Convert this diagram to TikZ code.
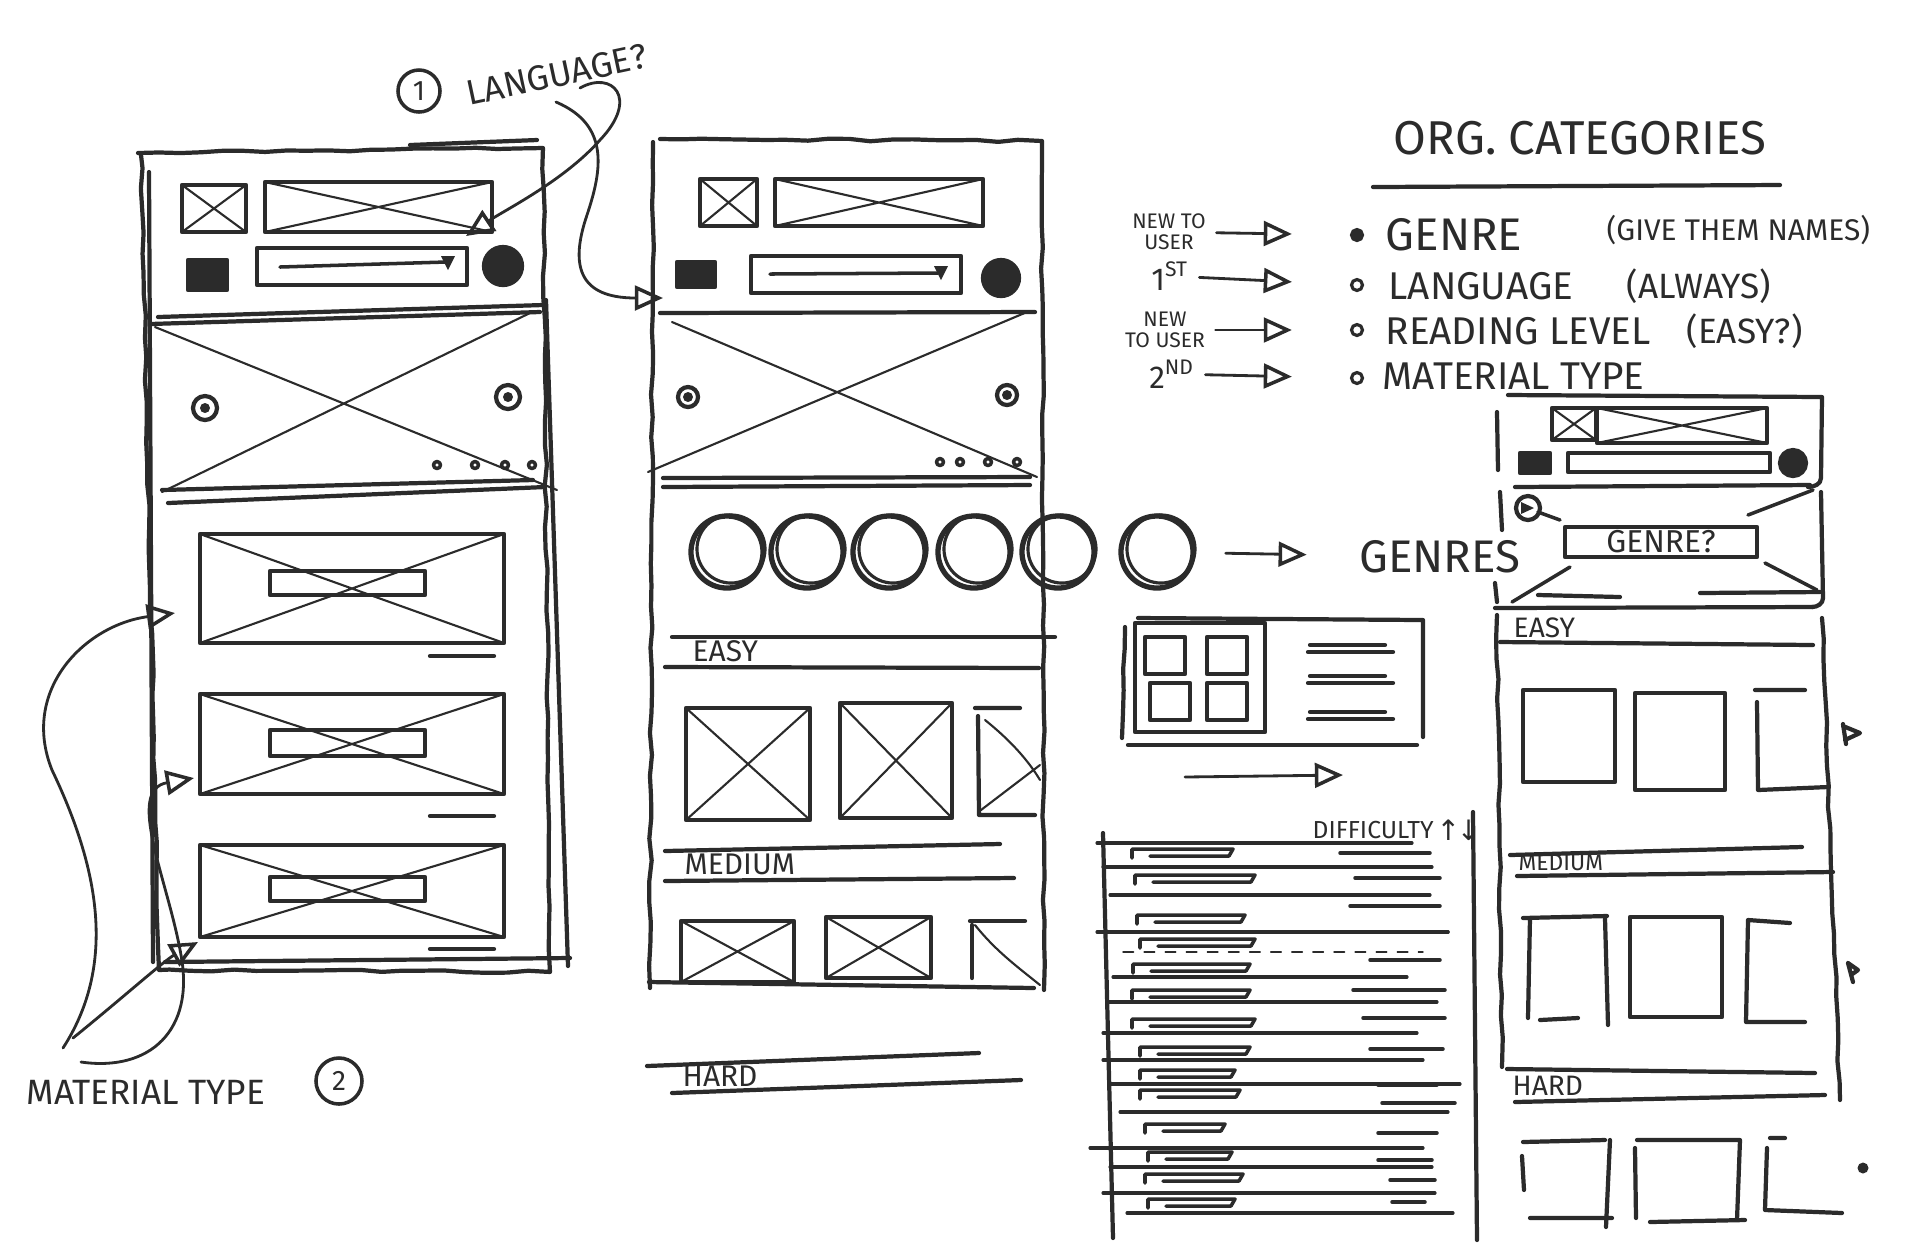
\documentclass[tikz,border=0pt]{standalone}
\usepackage{fontspec}
\setmainfont{Fira Sans}
\newfontfamily\dejavu{DejaVu Sans}
\usetikzlibrary{positioning, arrows.meta, decorations.pathmorphing, calc}
\definecolor{ink}{HTML}{2B2B2B}
\tikzset{
	pen/.style={draw=ink, line width=1.2pt, line cap=round, line join=round},
	thin pen/.style={draw=ink, line width=0.6pt, line cap=round},
	wobbly/.style={decorate, decoration={random steps, segment length=6pt, amplitude=0.35pt}},
	inked/.style={pen, fill=ink},
	edge/.style={draw=ink, line width=0.8pt, line cap=round, -{Triangle[open, length=8pt, width=7pt, line width=1pt]}},
	note/.style={text=ink, inner sep=0pt, font=\fontsize{10}{10}\selectfont},
	big note/.style={note, font=\fontsize{13}{13}\selectfont},
	row note/.style={note, anchor=west, font=\fontsize{8.5}{9}\selectfont},
	tiny note/.style={note, font=\fontsize{6}{6}\selectfont, align=center},
	num/.style={circle, draw=ink, line width=1pt, minimum size=4.2mm, inner sep=0pt, text=ink, font=\fontsize{8}{8}\selectfont},
	genre dot/.style={circle, pen, line width=1.5pt, minimum size=7.2mm, inner sep=0pt},
	bullet/.style={circle, draw=ink, line width=0.9pt, minimum size=1.1mm, inner sep=0pt}
}
\newcommand{\xbox}[4]{% x1, y1, x2, y2
	\draw[pen] (#1,#2) rectangle (#3,#4);
	\draw[thin pen] (#1,#2) -- (#3,#4) (#1,#4) -- (#3,#2)}
\newcommand{\tile}[4]{\draw[pen] (#1,#2) rectangle (#3,#4)}

\begin{document}
\begin{tikzpicture}[x=0.01cm, y=-0.01cm]
	\useasboundingbox (0,0) rectangle (1920,1259);
	\pgfmathsetseed{7}

	% left screen
	\draw[pen, wobbly] (138,153) -- (543,148) -- (550,972) -- (159,970) -- (141,155);
	\draw[pen] (149,172) -- (153,962);
	\draw[pen] (410,145) -- (537,140);
	\draw[pen] (546,300) -- (568,966);
	\draw[pen] (165,962) -- (570,958);
	\xbox{182}{185}{246}{232};
	\xbox{265}{182}{492}{232};
	\draw[inked] (188,260) rectangle (227,290);
	\draw[pen] (257,248) rectangle (467,285);
	\draw[thin pen, line width=1pt] (280,267) -- (446,262);
	\fill[ink] (441,256) -- (455,256) -- (448,270) -- cycle;
	\draw[inked] (503,266) circle[radius=1.9mm];
	\draw[pen] (158,317) -- (543,305);
	\draw[pen] (150,324) -- (540,312);
	\draw[thin pen] (155,327) -- (557,490) (530,313) -- (162,492);
	\draw[pen] (162,490) -- (533,480);
	\draw[pen] (168,503) -- (545,487);
	\foreach \cx/\cy in {205/408, 508/397} {
		\draw[pen] (\cx,\cy) circle[radius=1.2mm];
		\fill[ink] (\cx,\cy) circle[radius=0.5mm];
	}
	\foreach \dx in {437,475,505,532}
		\draw[pen, line width=1pt] (\dx,465) circle[radius=0.35mm];
	\foreach \ya/\yb/\ba/\bb/\yd in {534/643/571/595/656, 694/794/730/756/816, 845/937/877/901/949} {
		\xbox{200}{\ya}{504}{\yb};
		\draw[pen] (270,\ba) rectangle (425,\bb);
		\draw[pen] (430,\yd) -- (494,\yd);
	}

	% language note
	\node[num] (one) at (419,91) {1};
	\node[note, rotate=12, anchor=west] (lang) at (466,94) {LANGUAGE?};
	\coordinate (langA) at (580,88);
	\coordinate (langB) at (556,102);
	\coordinate (tipA) at (466,236);
	\coordinate (tipB) at (663,298);
	\draw[edge] (langA) .. controls (612,70) and (640,98) .. (600,140) .. controls (565,180) and (505,210) .. (tipA);
	\draw[edge] (langB) .. controls (610,125) and (602,170) .. (587,215) .. controls (570,265) and (578,298) .. (tipB);

	% material type note
	\node[note, anchor=west] (mat) at (26,1092) {MATERIAL TYPE};
	\node[num, minimum size=4.6mm] (two) at (339,1081) {2};
	\coordinate (matA) at (63,1048);
	\coordinate (matB) at (73,1038);
	\coordinate (matC) at (81,1062);
	\coordinate (card1) at (175,613);
	\coordinate (card2) at (194,778);
	\coordinate (card3) at (198,942);
	\draw[edge] (matA) .. controls (120,960) and (95,860) .. (52,770) .. controls (20,690) and (85,625) .. (card1);
	\draw[edge] (matB) .. controls (120,1000) and (165,960) .. (card3);
	\draw[edge] (matC) .. controls (150,1072) and (195,1030) .. (181,955) .. controls (168,880) and (125,790) .. (card2);

	% middle screen
	\draw[pen, wobbly] (653,142) -- (650,988);
	\draw[pen, wobbly] (660,139) -- (1042,141) -- (1044,990);
	\draw[pen] (649,982) -- (1034,988);
	\xbox{700}{179}{757}{226};
	\xbox{775}{179}{983}{226};
	\draw[inked] (677,262) rectangle (715,287);
	\draw[pen] (751,256) rectangle (961,293);
	\draw[thin pen, line width=1pt] (770,274) -- (938,273);
	\fill[ink] (934,266) -- (948,266) -- (941,280) -- cycle;
	\draw[inked] (1001,278) circle[radius=1.8mm];
	\draw[pen] (660,313) -- (1035,312);
	\draw[thin pen] (672,322) -- (1037,477) (1027,312) -- (648,472);
	\foreach \cx/\cy in {688/397, 1007/395} {
		\draw[pen] (\cx,\cy) circle[radius=1.0mm];
		\fill[ink] (\cx,\cy) circle[radius=0.5mm];
	}
	\foreach \dx in {940,960,988,1017}
		\draw[pen, line width=1pt] (\dx,462) circle[radius=0.35mm];
	\draw[pen] (663,478) -- (1030,477);
	\draw[pen] (663,487) -- (1030,485);

	\foreach \i/\cx in {1/727, 2/807, 3/889, 4/974, 5/1058, 6/1157} {
		\node[genre dot] (g\i) at (\cx,552) {};
		\draw[thin pen, line width=0.9pt] ($(g\i)+(4,-3)$) circle[radius=3.4mm];
	}
	\node[big note] (genres) at (1440,557) {GENRES};
	\draw[edge, shorten <=3mm, shorten >=5.2mm] (g6) -- (genres);

	\draw[pen] (672,637) -- (1055,637);
	\node[row note] (easyB) at (692,651) {EASY};
	\draw[pen] (665,667) -- (1039,668);
	\xbox{686}{708}{810}{820};
	\xbox{840}{703}{952}{818};
	\draw[pen] (975,708) -- (1020,708) (978,716) -- (979,815) -- (1035,815);
	\draw[thin pen] (985,720) .. controls (1010,740) and (1028,760) .. (1040,780) (981,810) -- (1040,765);

	\draw[pen] (665,851) -- (1000,844);
	\node[row note] (mediumB) at (684,864) {MEDIUM};
	\draw[pen] (665,881) -- (1014,878);
	\xbox{681}{921}{794}{982};
	\xbox{826}{917}{931}{978};
	\draw[pen] (970,921) -- (1025,921) (972,925) -- (972,978);
	\draw[thin pen] (975,925) .. controls (995,950) and (1015,965) .. (1040,985);

	\draw[pen] (647,1066) -- (979,1053);
	\node[row note] (hardB) at (682,1076) {HARD};
	\draw[pen] (672,1093) -- (1021,1080);

	% category list
	\node[big note, font=\fontsize{13.5}{14}\selectfont] (org) at (1580,138) {ORG. CATEGORIES};
	\draw[pen] (1373,187) -- (1780,185);
	\node[tiny note] (lab1) at (1169,232) {NEW TO\\USER};
	\node[note, font=\fontsize{9}{9}\selectfont] (lab2) at (1170,276) {1\textsuperscript{ST}};
	\node[tiny note] (lab3) at (1165,330) {NEW\\TO USER};
	\node[note, font=\fontsize{9}{9}\selectfont] (lab4) at (1172,374) {2\textsuperscript{ND}};
	\node[bullet, fill=ink] (b1) at (1357,235) {};
	\foreach \i/\y in {2/285, 3/330, 4/378}
		\node[bullet, fill=white] (b\i) at (1357,\y) {};
	\foreach \i in {1,...,4}
		\draw[edge, shorten <=1mm, shorten >=5.8mm] (lab\i) -- (b\i);
	\node[note, anchor=west, font=\fontsize{13}{13}\selectfont] (genre) at (1385,235) {GENRE};
	\node[note, anchor=west, font=\fontsize{8.5}{9}\selectfont] (give) at (1606,230) {(GIVE THEM NAMES)};
	\node[note, anchor=west, font=\fontsize{11}{11}\selectfont] (language) at (1388,286) {LANGUAGE};
	\node[note, anchor=west] (always) at (1626,286) {(ALWAYS)};
	\node[note, anchor=west, font=\fontsize{11}{11}\selectfont] (reading) at (1385,331) {READING LEVEL};
	\node[note, anchor=west] (easyq) at (1686,331) {(EASY?)};
	\node[note, anchor=west, font=\fontsize{11}{11}\selectfont] (material) at (1382,376) {MATERIAL TYPE};

	% collection card
	\draw[pen, wobbly] (1125,627) -- (1122,738);
	\draw[pen] (1138,618) -- (1423,620) -- (1423,737);
	\draw[pen] (1128,745) -- (1417,745);
	\draw[pen] (1135,623) rectangle (1265,732);
	\foreach \sx/\sy in {1145/637, 1207/637, 1150/683, 1207/683}
		\draw[pen] (\sx,\sy) rectangle ++(40,37);
	\foreach \ty in {645,676,712} {
		\draw[pen] (1310,\ty) -- (1385,\ty);
		\draw[pen] (1308,\ty+7) -- (1393,\ty+7);
	}
	\coordinate (cardL) at (1185,777);
	\coordinate (cardR) at (1343,775);
	\draw[edge] (cardL) -- (cardR);

	% difficulty list
	\node[note, anchor=west, font=\fontsize{7}{7}\selectfont] (diff) at (1312,830) {DIFFICULTY};
	\node[note, right=0.5pt of diff, font=\dejavu\fontsize{8}{8}\selectfont] (sort) {↑\kern-1pt↓};
	\draw[pen] (1103,833) -- (1113,1238);
	\draw[pen] (1473,812) -- (1477,1240);
	\foreach \y/\xa/\xb in {843/1097/1412, 867/1103/1432, 895/1110/1430, 932/1097/1448, 977/1113/1407, 1002/1107/1437, 1033/1103/1417, 1060/1103/1423, 1084/1110/1460, 1112/1120/1448, 1148/1090/1423, 1167/1110/1432, 1193/1103/1435, 1213/1127/1453}
		\draw[pen, line width=0.9pt] (\xa,\y) -- (\xb,\y);
	\draw[thin pen, dashed, line width=0.4pt] (1123,952) -- (1423,952);
	\foreach \y/\xa/\xb in {852/1132/1233, 878/1135/1255, 918/1137/1245, 942/1140/1255, 967/1133/1250, 993/1132/1250, 1022/1132/1255, 1050/1140/1250, 1073/1140/1235, 1093/1140/1240, 1127/1145/1225, 1155/1148/1232, 1177/1145/1243, 1202/1148/1235}
		\draw[pen, line width=1pt] (\xa,\y+6) -- (\xa,\y-3) -- (\xb,\y-3) -- (\xb-4,\y+4) -- (\xa+18,\y+4);
	\foreach \y/\xa/\xb in {853/1340/1430, 878/1355/1440, 906/1350/1440, 932/1357/1448, 960/1370/1440, 990/1353/1445, 1018/1363/1445, 1049/1370/1443, 1085/1378/1437, 1103/1382/1455, 1133/1378/1437, 1160/1378/1432, 1180/1390/1435, 1202/1392/1425}
		\draw[pen, line width=1pt] (\xa,\y) -- (\xb,\y);

	% right screen, header
	\draw[pen] (1508,395) -- (1822,397) -- (1821,478) to[out=-90, in=0] (1808,487);
	\draw[pen] (1497,412) -- (1498,470) (1500,492) -- (1502,530) (1495,583) -- (1497,602);
	\xbox{1552}{408}{1596}{440};
	\xbox{1597}{408}{1767}{443};
	\draw[inked] (1520,453) rectangle (1550,473);
	\draw[pen] (1568,453) rectangle (1770,472);
	\draw[inked] (1793,463) circle[radius=1.3mm];
	\draw[pen] (1515,487) -- (1810,485);
	\draw[pen] (1821,492) -- (1823,598) to[out=-90, in=0] (1812,607);
	\draw[pen] (1528,508) circle[radius=1.2mm];
	\fill[ink] (1521,502) -- (1534,508) -- (1521,514) -- cycle;
	\draw[thin pen, line width=1pt] (1538,512) -- (1560,520);
	\draw[thin pen, line width=1pt] (1813,490) -- (1748,515) (1570,567) -- (1512,602) (1765,563) -- (1817,590);
	\node[pen, draw, minimum width=1.92cm, minimum height=3mm, inner sep=0pt, text=ink, font=\fontsize{9}{9}\selectfont] (genreq) at (1661,542) {GENRE?};
	\draw[pen] (1538,595) -- (1620,597) (1700,593) -- (1820,592);
	\draw[pen] (1495,608) -- (1813,607);

	% right screen, rows
	\draw[pen, wobbly] (1497,615) -- (1502,1067);
	\draw[pen, wobbly] (1822,618) -- (1840,1100);
	\node[note, anchor=west, font=\fontsize{8}{8}\selectfont] (easyC) at (1513,628) {EASY};
	\draw[pen] (1500,642) -- (1813,645);
	\tile{1523}{690}{1615}{782};
	\tile{1635}{693}{1725}{790};
	\draw[pen] (1755,690) -- (1805,690) (1757,702) -- (1758,790) -- (1828,787);
	\draw[pen] (1843,724) -- (1846,744) (1843,726) -- (1860,733) -- (1845,740);

	\draw[pen] (1510,855) -- (1802,847);
	\node[note, anchor=west, font=\fontsize{6.5}{7}\selectfont] (mediumC) at (1518,863) {MEDIUM};
	\draw[pen] (1517,876) -- (1833,872);
	\draw[pen] (1523,918) -- (1607,916) (1530,918) -- (1528,1018) (1540,1020) -- (1578,1018) (1605,918) -- (1608,1025);
	\tile{1630}{917}{1722}{1017};
	\draw[pen] (1748,920) -- (1790,923) (1748,920) -- (1746,1022) -- (1805,1022);
	\draw[pen] (1848,963) -- (1853,982) (1848,963) -- (1858,970) -- (1851,975);

	\draw[pen] (1507,1069) -- (1815,1073);
	\node[note, anchor=west, font=\fontsize{8}{8}\selectfont] (hardC) at (1512,1086) {HARD};
	\draw[pen] (1515,1102) -- (1825,1095);
	\draw[pen] (1523,1142) -- (1605,1140) (1522,1156) -- (1524,1190) (1530,1218) -- (1612,1218) (1610,1140) -- (1606,1227);
	\draw[pen] (1637,1140) -- (1740,1140) -- (1737,1220) (1635,1148) -- (1636,1218) (1650,1222) -- (1745,1220);
	\draw[pen] (1770,1138) -- (1785,1138) (1767,1148) -- (1765,1210) -- (1842,1213);
	\fill[ink] (1863,1168) circle[radius=0.55mm];
\end{tikzpicture}
\end{document}
